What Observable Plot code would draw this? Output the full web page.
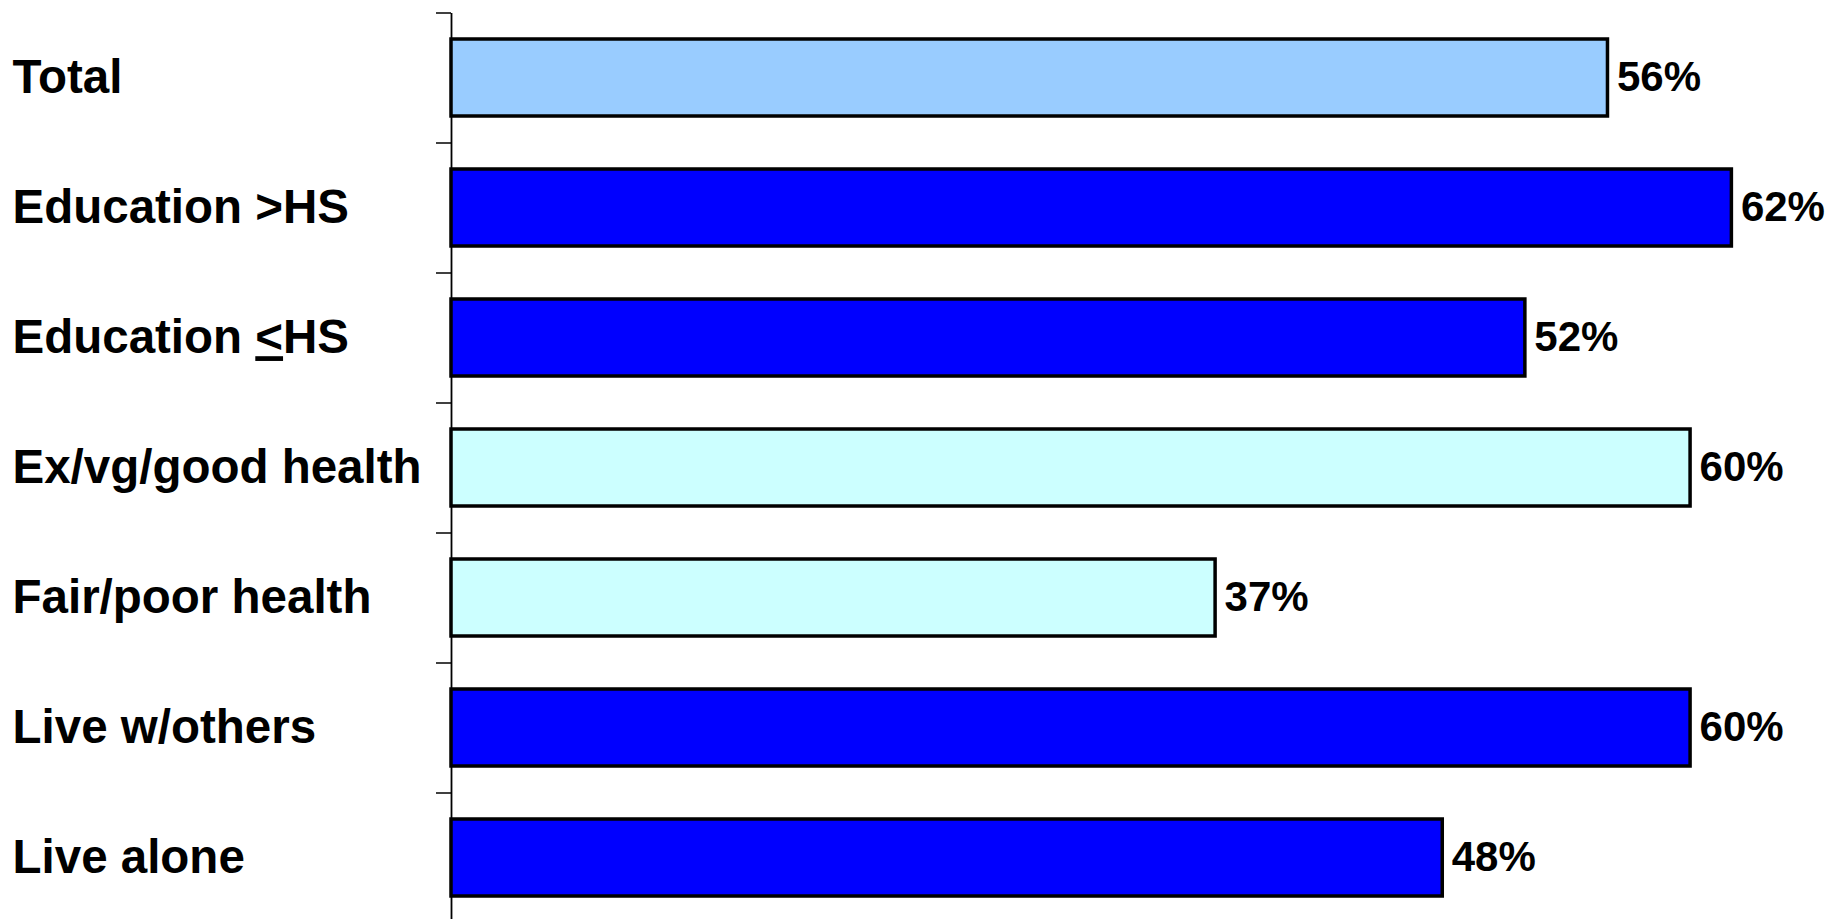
<!DOCTYPE html>
<html>
<head>
<meta charset="utf-8">
<script src="https://cdn.jsdelivr.net/npm/d3@7"></script>
<script src="https://cdn.jsdelivr.net/npm/@observablehq/plot@0.6"></script>
<style>
  html, body { margin: 0; padding: 0; background: #fff; overflow: hidden; }
  svg text { font-family: "Liberation Sans", Arial, sans-serif; font-weight: bold; }
</style>
</head>
<body>
<div id="chart"></div>
<script>
const categories = ["Total", "Education >HS", "Education <HS", "Ex/vg/good health", "Fair/poor health", "Live w/others", "Live alone"];
const values = [56, 62, 52, 60, 37, 60, 48];
const groups = ["total", "education", "education", "health", "health", "living", "living"];
const groupColors = {total: "#99CCFF", education: "#0000FF", health: "#CCFFFF", living: "#0000FF"};
const valueLabels = ["56%", "62%", "52%", "60%", "37%", "60%", "48%"];

const data = categories.map((c, i) => ({category: c, value: values[i], group: groups[i], label: valueLabels[i]}));

const W = 1827, H = 919;
const chart = Plot.plot({
  width: W,
  height: H,
  marginLeft: 451,
  marginRight: 0,
  marginTop: 13,
  marginBottom: 0,
  style: {background: "#fff", overflow: "visible"},
  x: {domain: [0, 66.63], axis: null},
  y: {domain: categories, range: [12.7, 922.7], paddingInner: 0.41, paddingOuter: 0.205, axis: null},
  marks: [
    Plot.axisY({tickSize: 15, tickFormat: null, label: null, dy: -65, strokeWidth: 1.5, stroke: "#000"}),
    Plot.ruleX([0], {stroke: "#000", strokeWidth: 1.8}),
    Plot.barX(data, {
      x: "value", y: "category",
      fill: d => groupColors[d.group],
      stroke: "#000", strokeWidth: 3.5
    }),
    Plot.text(data, {
      x: "value", y: "category", text: "label",
      textAnchor: "start", dx: 9, fontSize: 42, fontWeight: "bold", fill: "#000"
    }),
    Plot.text(data, {
      y: "category", text: "category", frameAnchor: "left",
      textAnchor: "start", dx: -439, fontSize: 47.5, fontWeight: "bold", fill: "#000"
    })
  ]
});
document.getElementById("chart").appendChild(chart);

// underline the "<" in "Education <HS" (as in the original: ≤)
chart.querySelectorAll("text").forEach(t => {
  if (t.textContent === "Education <HS") {
    t.textContent = "";
    const parts = ["Education ", "<", "HS"];
    parts.forEach((p, i) => {
      const ts = document.createElementNS("http://www.w3.org/2000/svg", "tspan");
      ts.textContent = p;
      if (i === 1) ts.setAttribute("text-decoration", "underline");
      t.appendChild(ts);
    });
  }
});
</script>
</body>
</html>
